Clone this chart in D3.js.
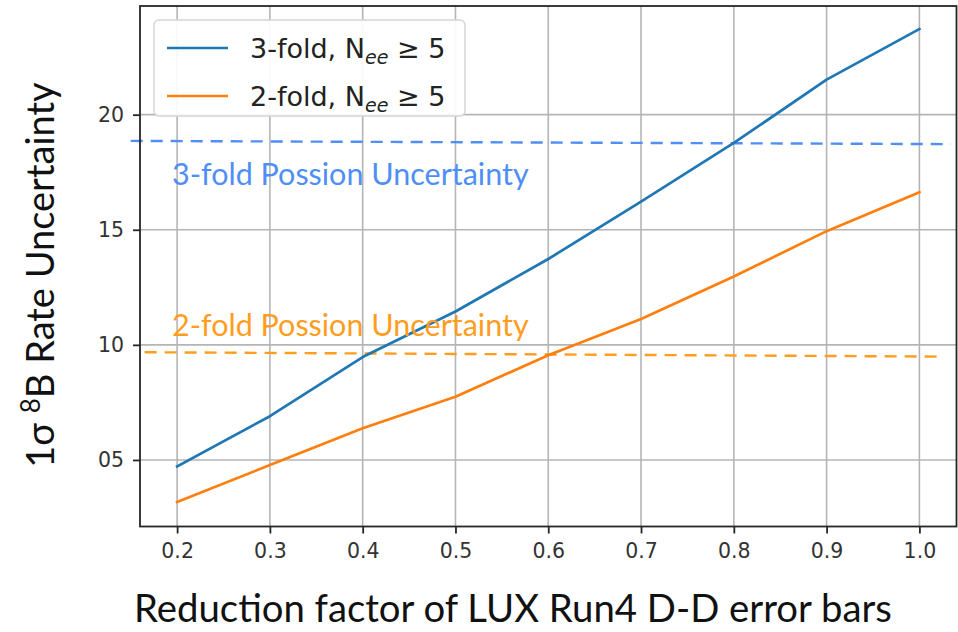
<!DOCTYPE html>
<html>
<head>
<meta charset="utf-8">
<script src="https://cdn.jsdelivr.net/npm/d3@7"></script>
<style>
  html, body { margin: 0; padding: 0; background: #fff; }
  svg { display: block; }
</style>
</head>
<body>
<svg id="chart" width="958" height="632"></svg>
<script>
// Reduction factor of the D-D error bars
const factors = [0.2, 0.3, 0.4, 0.5, 0.6, 0.7, 0.8, 0.9, 1.0];
// 1-sigma 8B rate uncertainty for each selection
const threeFold = [4.72, 6.90, 9.47, 11.45, 13.73, 16.22, 18.77, 21.52, 23.72];
const twoFold   = [3.17, 4.78, 6.38, 7.75, 9.55, 11.12, 12.97, 14.94, 16.63];
// Poisson reference levels (endpoints of the dashed guides)
const poisson3X = [0.150, 1.034];
const poisson3Y = [18.86, 18.72];
const poisson2X = [0.165, 1.024];
const poisson2Y = [9.68, 9.49];

const xTicks = [0.2, 0.3, 0.4, 0.5, 0.6, 0.7, 0.8, 0.9, 1.0];
const yTicks = [5, 10, 15, 20];
const yTickLabels = ["05", "10", "15", "20"];

const svg = d3.select("#chart");
const plotL = 140, plotR = 956.5, plotT = 6, plotB = 526.5;

const x = d3.scaleLinear().domain([0.16, 1.04]).range([plotL, plotR]);
const y = d3.scaleLinear().domain([2.11, 24.72]).range([plotB, plotT]);

// grid
const grid = svg.append("g");
grid.selectAll("line.gx").data(xTicks).join("line")
  .attr("class", "gx")
  .attr("x1", d => x(d)).attr("x2", d => x(d))
  .attr("y1", plotT).attr("y2", plotB)
  .attr("stroke", "#b5b5b5").attr("stroke-width", 1.6);
grid.selectAll("line.gy").data(yTicks).join("line")
  .attr("class", "gy")
  .attr("x1", plotL).attr("x2", plotR)
  .attr("y1", d => y(d)).attr("y2", d => y(d))
  .attr("stroke", "#b5b5b5").attr("stroke-width", 1.6);

// dashed Poisson guides
const guide = d3.line().x(d => x(d[0])).y(d => y(d[1]));
svg.append("path")
  .attr("d", guide(d3.zip(poisson3X, poisson3Y)))
  .attr("fill", "none").attr("stroke", "#4f8ff5").attr("stroke-width", 2.4)
  .attr("stroke-dasharray", "12,8");
svg.append("path")
  .attr("d", guide(d3.zip(poisson2X, poisson2Y)))
  .attr("fill", "none").attr("stroke", "#ff9d1e").attr("stroke-width", 2.4)
  .attr("stroke-dasharray", "12,8");

// series
const line = d3.line().x((d, i) => x(factors[i])).y(d => y(d));
svg.append("path").attr("d", line(threeFold))
  .attr("fill", "none").attr("stroke", "#1f77b4").attr("stroke-width", 2.7)
  .attr("stroke-linejoin", "round").attr("stroke-linecap", "square");
svg.append("path").attr("d", line(twoFold))
  .attr("fill", "none").attr("stroke", "#ff7f0e").attr("stroke-width", 2.7)
  .attr("stroke-linejoin", "round").attr("stroke-linecap", "square");

// guide labels
svg.append("text").attr("x", 172).attr("y", 185)
  .attr("font-family", "Lato, 'Open Sans', sans-serif").attr("font-size", 30.5)
  .attr("fill", "#4f8ff5").text("3-fold Possion Uncertainty");
svg.append("text").attr("x", 172).attr("y", 336)
  .attr("font-family", "Lato, 'Open Sans', sans-serif").attr("font-size", 30.5)
  .attr("fill", "#ff9d1e").text("2-fold Possion Uncertainty");

// frame
svg.append("rect").attr("x", plotL).attr("y", plotT)
  .attr("width", plotR - plotL).attr("height", plotB - plotT)
  .attr("fill", "none").attr("stroke", "#262626").attr("stroke-width", 1.8);

// axes
const xAxis = d3.axisBottom(x).tickValues(xTicks).tickFormat(d3.format(".1f"))
  .tickSize(7).tickSizeOuter(0).tickPadding(10);
const gx = svg.append("g").attr("transform", `translate(0,${plotB})`).call(xAxis);
gx.select(".domain").remove();
gx.selectAll("line").attr("stroke", "#262626").attr("stroke-width", 1.8);
gx.selectAll("text").attr("font-family", "'DejaVu Sans', sans-serif")
  .attr("font-size", 20.5).attr("fill", "#333");

const yAxis = d3.axisLeft(y).tickValues(yTicks)
  .tickFormat((d, i) => yTickLabels[i]).tickSize(7).tickSizeOuter(0).tickPadding(9);
const gy = svg.append("g").attr("transform", `translate(${plotL},0)`).call(yAxis);
gy.select(".domain").remove();
gy.selectAll("line").attr("stroke", "#262626").attr("stroke-width", 1.8);
gy.selectAll("text").attr("font-family", "'DejaVu Sans', sans-serif")
  .attr("font-size", 20.5).attr("fill", "#333");

// axis titles
svg.append("text").attr("x", 513).attr("y", 622).attr("text-anchor", "middle")
  .attr("font-family", "Lato, 'Open Sans', sans-serif").attr("font-size", 38.3)
  .attr("fill", "#111").text("Reduction factor of LUX Run4 D-D error bars");

const yl = svg.append("text")
  .attr("transform", "translate(54,275) rotate(-90)")
  .attr("text-anchor", "middle")
  .attr("font-family", "Lato, 'Open Sans', sans-serif").attr("font-size", 38)
  .attr("fill", "#111");
yl.append("tspan").text("1σ ");
yl.append("tspan").attr("font-size", 26).attr("dy", -14).text("8");
yl.append("tspan").attr("dy", 14).text("B Rate Uncertainty");

// legend
const lg = svg.append("g");
lg.append("rect").attr("x", 154).attr("y", 20).attr("width", 311).attr("height", 96)
  .attr("rx", 5).attr("fill", "#fff").attr("fill-opacity", 0.9)
  .attr("stroke", "#d4d4d4").attr("stroke-width", 1.4);
const entries = [
  {label: "3-fold, N", color: "#1f77b4", cy: 48},
  {label: "2-fold, N", color: "#ff7f0e", cy: 96}
];
entries.forEach(e => {
  lg.append("line").attr("x1", 167).attr("x2", 228)
    .attr("y1", e.cy).attr("y2", e.cy)
    .attr("stroke", e.color).attr("stroke-width", 2.7);
  const t = lg.append("text").attr("x", 250).attr("y", e.cy + 10)
    .attr("font-family", "'DejaVu Sans', sans-serif").attr("font-size", 27)
    .attr("fill", "#222");
  t.append("tspan").text(e.label);
  t.append("tspan").attr("font-size", 19).attr("font-style", "italic")
    .attr("dy", 6).text("ee");
  t.append("tspan").attr("dy", -6).text(" ≥ 5");
});
</script>
</body>
</html>
